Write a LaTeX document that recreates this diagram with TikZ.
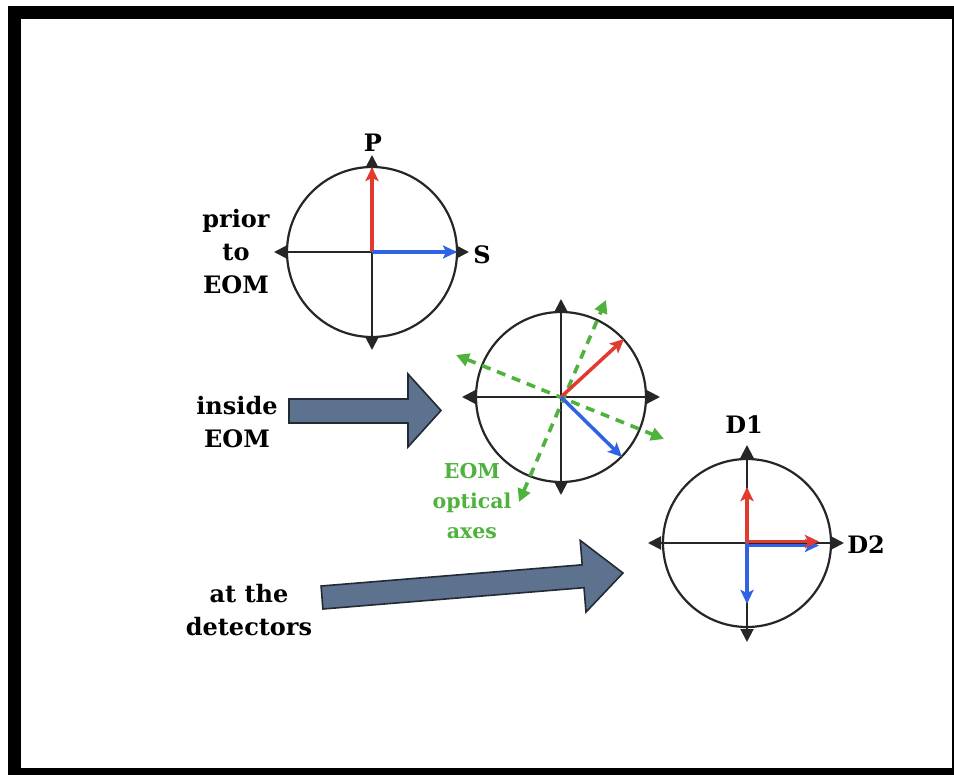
\documentclass[tikz,border=0pt]{standalone}
\usepackage{fontspec}
\setmainfont{DejaVu Serif}
\usetikzlibrary{arrows.meta}
\definecolor{eomgreen}{RGB}{78,178,60}
\definecolor{vred}{RGB}{226,58,46}
\definecolor{vblue}{RGB}{48,98,228}
\definecolor{slate}{RGB}{92,114,143}
\definecolor{slateline}{RGB}{35,42,52}
\tikzset{
  ring/.style={draw=black!85, line width=2.2pt},
  axis/.style={draw=black!85, line width=2pt, -{Triangle[length=13pt,width=13pt]}},
  vec/.style={line width=3.5pt, -{Stealth[length=14pt,width=13pt,inset=3pt]}},
  optax/.style={draw=eomgreen, line width=3.6pt, dash pattern=on 9pt off 7pt,
     {Triangle[length=13pt,width=13pt]}-{Triangle[length=13pt,width=13pt]}},
  lbl/.style={font=\bfseries\fontsize{24}{33}\selectfont, align=center, inner sep=0pt},
  glbl/.style={font=\bfseries\fontsize{20.5}{30}\selectfont, align=center, inner sep=0pt, text=eomgreen},
  bigarrow/.style={fill=slate, draw=slateline, line width=1.6pt, line join=miter}
}
\begin{document}
\begin{tikzpicture}[x=1pt,y=-1pt]
\useasboundingbox (0,0) rectangle (954,775);
\fill[black] (8,6) rectangle (954,775);
\fill[white] (21,19) rectangle (952,768);

% ---- circle 1: prior to EOM
\coordinate (c1) at (372,252);
\draw[ring] (c1) circle[radius=85];
\coordinate (c1l) at (274,252);
\coordinate (c1r) at (469,252);
\coordinate (c1t) at (372,155);
\coordinate (c1b) at (372,350);
\draw[axis] (c1) -- (c1l);
\draw[axis] (c1) -- (c1r);
\draw[axis] (c1) -- (c1t);
\draw[axis] (c1) -- (c1b);
\coordinate (c1p) at (372,167);
\coordinate (c1s) at (457,252);
\draw[vec, vred] (c1) -- (c1p);
\draw[vec, vblue] (c1) -- (c1s);
\node[lbl] (P) at (373,143) {P};
\node[lbl] (S) at (482,255) {S};
\node[lbl] (prior) at (236,252) {prior\\to\\EOM};

% ---- circle 2: inside EOM
\coordinate (c2) at (561,397);
\draw[ring] (c2) circle[radius=85];
\coordinate (c2l) at (462,397);
\coordinate (c2r) at (660,397);
\coordinate (c2t) at (561,299);
\coordinate (c2b) at (561,495);
\draw[axis] (c2) -- (c2l);
\draw[axis] (c2) -- (c2r);
\draw[axis] (c2) -- (c2t);
\draw[axis] (c2) -- (c2b);
\coordinate (g1a) at (519,502);
\coordinate (g1b) at (606,300);
\coordinate (g2a) at (456,355);
\coordinate (g2b) at (664,439);
\draw[optax] (g1a) -- (g1b);
\draw[optax] (g2a) -- (g2b);
\coordinate (c2red) at (624,339);
\coordinate (c2blue) at (622,457);
\draw[vec, vred] (c2) -- (c2red);
\draw[vec, vblue] (c2) -- (c2blue);
\node[glbl] (eomax) at (472,501) {EOM\\optical\\axes};

% ---- circle 3: at the detectors
\coordinate (c3) at (747,543);
\draw[ring] (c3) circle[radius=84];
\coordinate (c3l) at (648,543);
\coordinate (c3r) at (844,543);
\coordinate (c3t) at (747,445);
\coordinate (c3b) at (747,642);
\draw[axis] (c3) -- (c3l);
\draw[axis] (c3) -- (c3r);
\draw[axis] (c3) -- (c3t);
\draw[axis] (c3) -- (c3b);
\coordinate (c3o) at (747,545.5);
\coordinate (c3bluer) at (819,545.5);
\coordinate (c3redr) at (819,541.5);
\coordinate (c3ro) at (747,541.5);
\coordinate (c3redu) at (747,487);
\coordinate (c3blued) at (747,604);
\draw[vec, vblue] (c3o) -- (c3bluer);
\draw[vec, vred] (c3ro) -- (c3redr);
\draw[vec, vred] (c3) -- (c3redu);
\draw[vec, vblue] (c3) -- (c3blued);
\node[lbl] (D1) at (744,425) {D1};
\node[lbl] (D2) at (866,545) {D2};

% ---- big arrows
\node[lbl] (inside) at (237,422) {inside\\EOM};
\draw[bigarrow] (289,399) -- (408,399) -- (408,374) -- (441,410.5)
   -- (408,447) -- (408,423) -- (289,423) -- cycle;
\node[lbl] (atdet) at (249,610) {at the\\detectors};
\draw[bigarrow] (321.1,586.0) -- (582.2,564.8) -- (580.2,540.4) -- (623,573)
   -- (586.0,612.1) -- (584.0,587.7) -- (322.9,609.0) -- cycle;
\end{tikzpicture}
\end{document}
